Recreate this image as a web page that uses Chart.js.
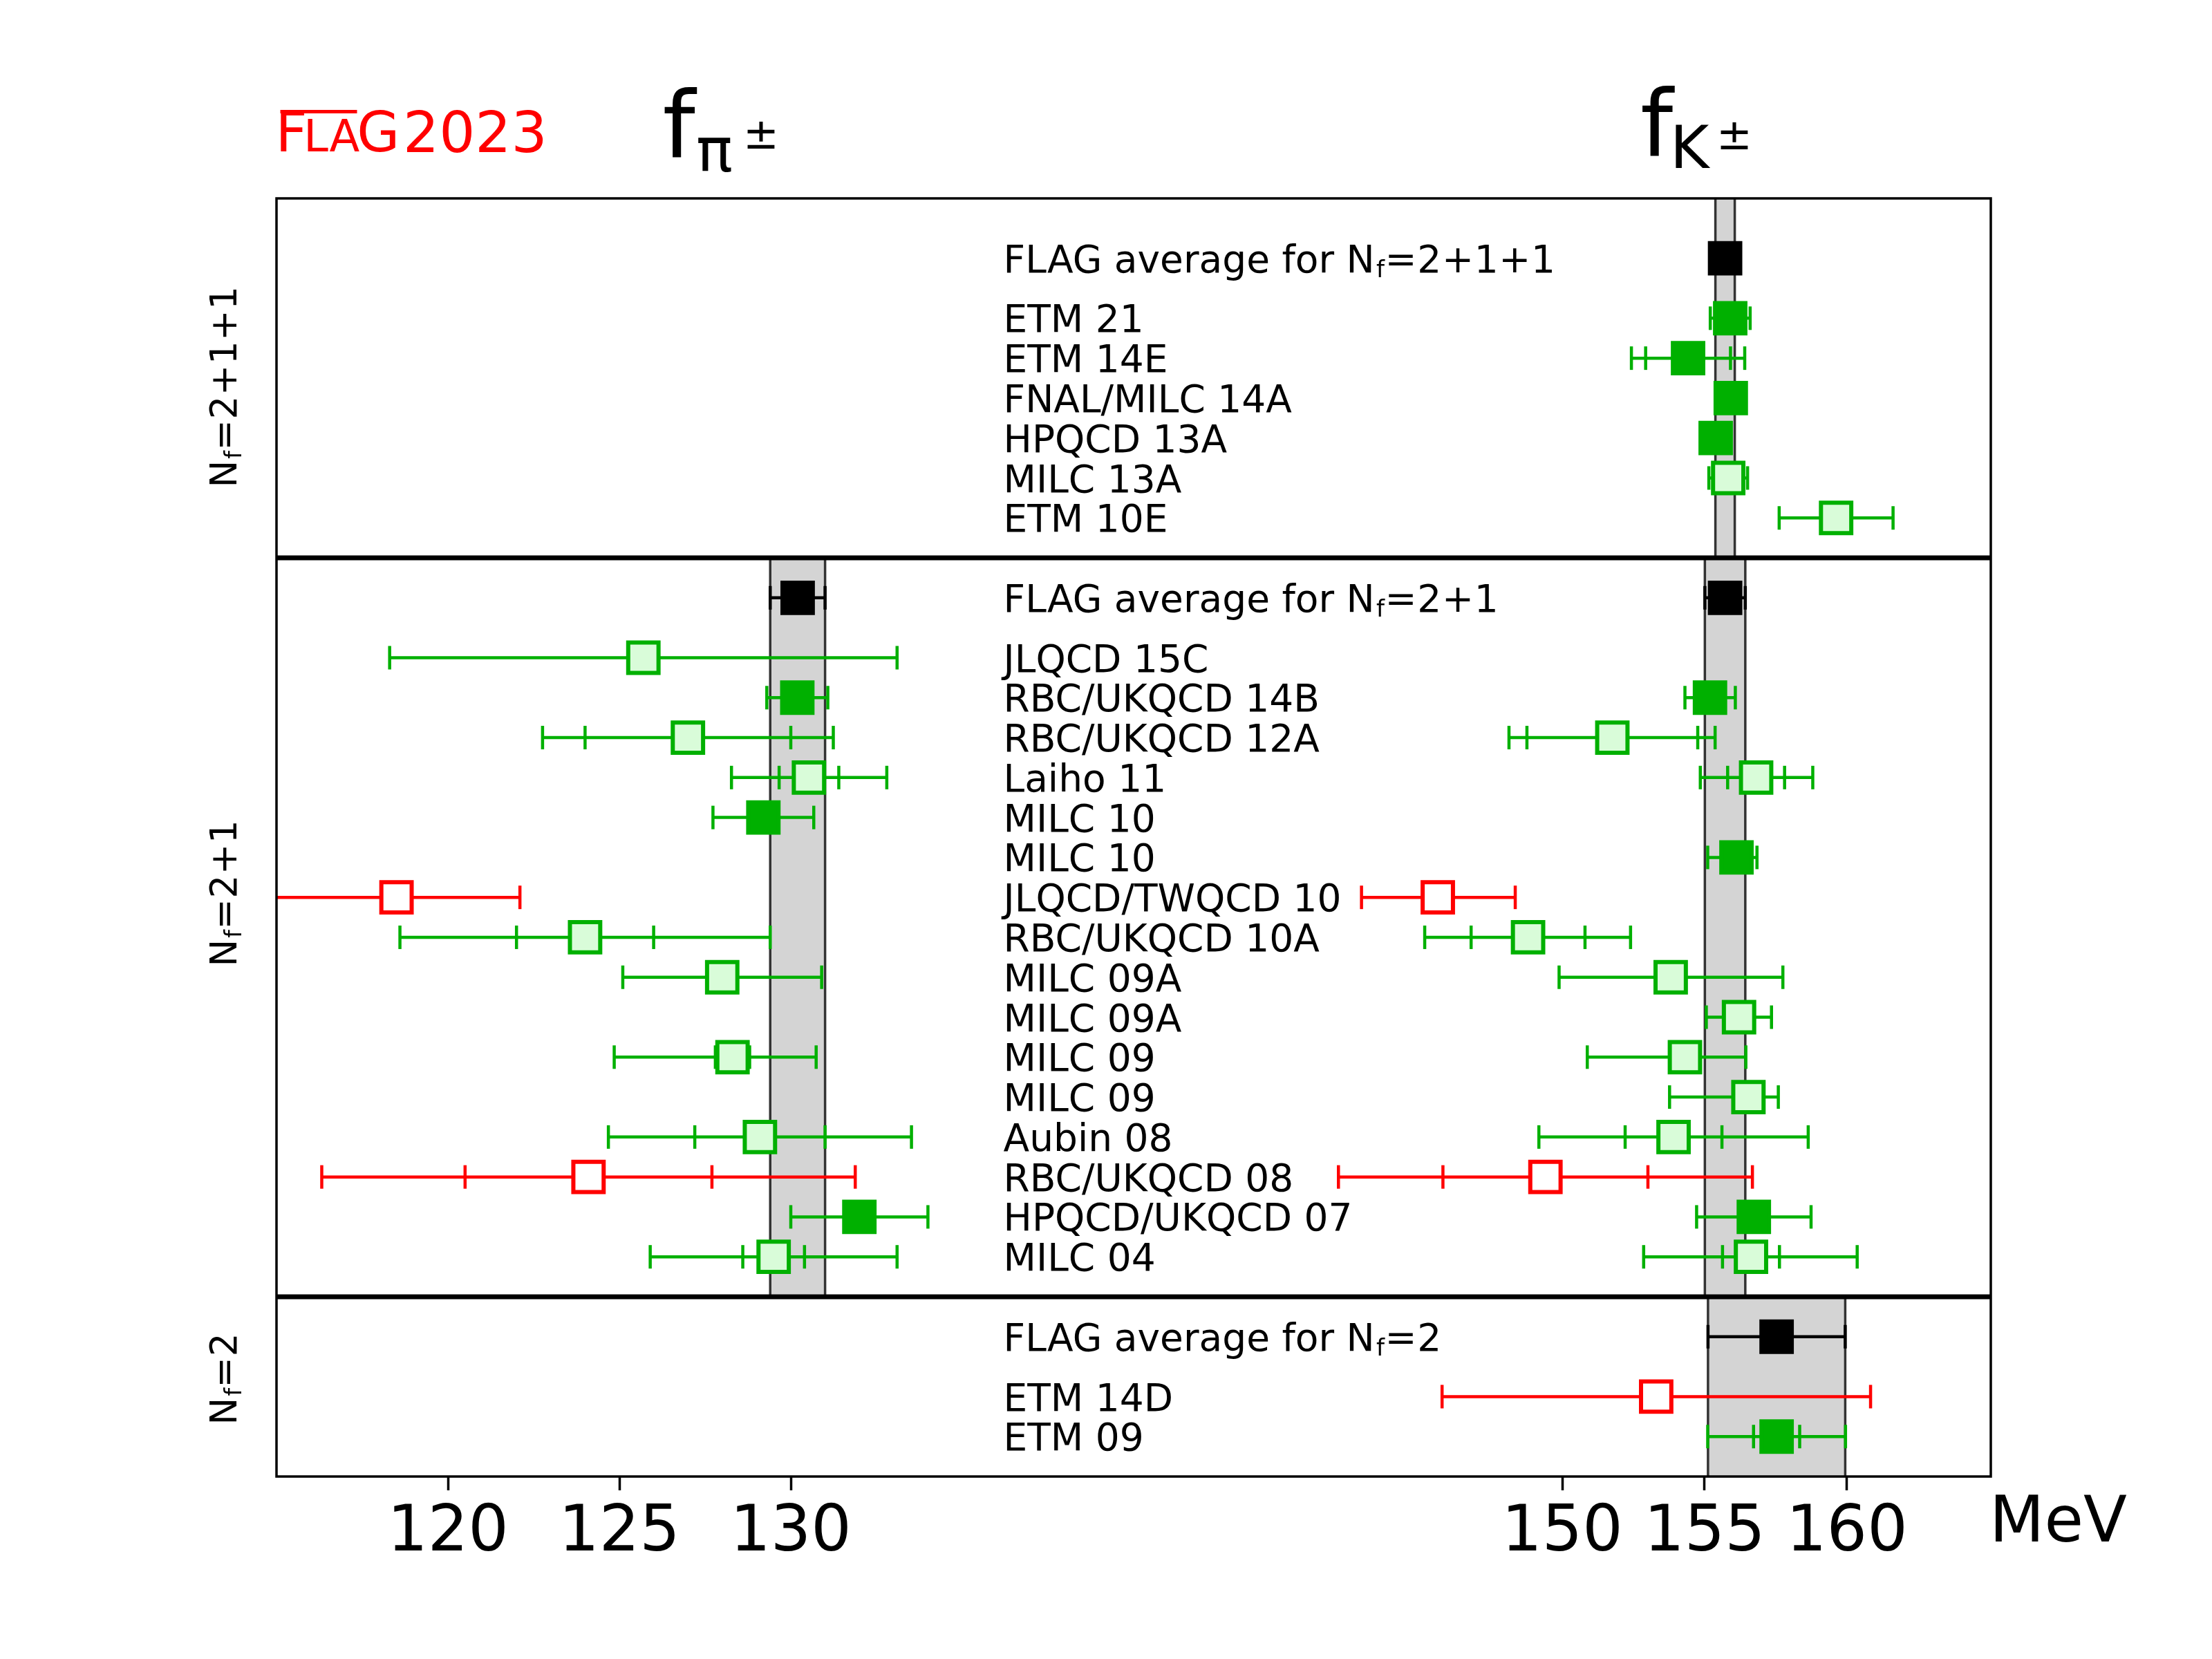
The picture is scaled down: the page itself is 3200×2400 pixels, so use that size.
<!DOCTYPE html>
<html>
<head>
<meta charset="utf-8">
<script src="https://cdn.jsdelivr.net/npm/chart.js@4.4.1/dist/chart.umd.min.js"></script>
<style>
  html, body { margin: 0; padding: 0; background: #fff; }
  canvas { display: block; }
</style>
</head>
<body>
<canvas id="chart" width="3200" height="2400" style="width:3200px;height:2400px"></canvas>
<script>
// rows, top to bottom (row units, 0 = top of frame)
const rowLabels = [
  "FLAG average for N_f=2+1+1", "ETM 21", "ETM 14E", "FNAL/MILC 14A", "HPQCD 13A", "MILC 13A", "ETM 10E",
  "FLAG average for N_f=2+1", "JLQCD 15C", "RBC/UKQCD 14B", "RBC/UKQCD 12A", "Laiho 11", "MILC 10", "MILC 10",
  "JLQCD/TWQCD 10", "RBC/UKQCD 10A", "MILC 09A", "MILC 09A", "MILC 09", "MILC 09", "Aubin 08", "RBC/UKQCD 08",
  "HPQCD/UKQCD 07", "MILC 04",
  "FLAG average for N_f=2", "ETM 14D", "ETM 09"
];
const rowPos = [1.5, 3, 4, 5, 6, 7, 8,
  10, 11.5, 12.5, 13.5, 14.5, 15.5, 16.5, 17.5, 18.5, 19.5, 20.5, 21.5, 22.5, 23.5, 24.5, 25.5, 26.5,
  28.5, 30, 31];
// avg = FLAG average, good = filled green, fair = light green, poor = red open
const rowKind = ["avg", "good", "good", "good", "good", "fair", "fair",
  "avg", "fair", "good", "fair", "fair", "good", "good", "poor", "fair", "fair", "fair", "fair", "fair", "fair", "poor", "good", "fair",
  "avg", "poor", "good"];

const panelEdges = [0, 9, 27.5, 32];
const panelLabels = ["N_f=2+1+1", "N_f=2+1", "N_f=2"];
const panelLabelPos = [4.72, 17.4, 29.56];

// f_pi in MeV (total error low / high, statistical error)
const fpi     = [null, null, null, null, null, null, null,
  130.2, 125.7, 130.19, 127.0, 130.53, 129.2, null, 118.5, 124.0, 128.0, null, 128.3, null, 129.1, 124.1, 132.0, 129.5,
  null, null, null];
const fpiLo   = [null, null, null, null, null, null, null,
  0.8, 7.4, 0.89, 4.24, 2.26, 1.47, null, 3.6, 5.4, 2.9, null, 3.45, null, 4.42, 7.78, 2.0, 3.6,
  null, null, null];
const fpiHi   = [null, null, null, null, null, null, null,
  0.8, 7.4, 0.89, 4.24, 2.27, 1.47, null, 3.6, 5.4, 2.9, null, 2.44, null, 4.42, 7.78, 2.0, 3.6,
  null, null, null];
const fpiStat = [null, null, null, null, null, null, null,
  null, null, null, 3.0, 0.87, null, null, null, 2.0, null, null, 0.5, null, 1.9, 3.6, null, 0.9,
  null, null, null];

// f_K in MeV
const fK     = [155.72, 155.9, 154.42, 155.92, 155.39, 155.83, 159.62,
  155.72, null, 155.19, 151.76, 156.81, null, 156.12, 145.63, 148.8, 153.81, 156.21, 154.31, 156.54, 153.91, 149.41, 156.73, 156.63,
  157.53, 153.3, 157.53];
const fKLo   = [0.34, 0.7, 1.99, 0.34, 0.34, 0.68, 2.0,
  0.71, null, 0.88, 3.63, 1.96, null, 1.01, 2.68, 3.63, 3.92, 1.15, 3.43, 2.77, 4.73, 7.27, 2.01, 3.77,
  2.41, 7.52, 2.42];
const fKHi   = [0.34, 0.7, 1.99, 0.42, 0.34, 0.68, 2.0,
  0.71, null, 0.89, 3.61, 1.99, null, 0.72, 2.72, 3.6, 3.94, 1.14, 2.14, 1.05, 4.73, 7.27, 2.01, 3.73,
  2.41, 7.53, 2.42];
const fKStat = [null, null, 1.49, null, null, null, null,
  null, null, null, 3.0, 1.0, null, null, null, 2.0, null, null, null, null, 1.7, 3.6, null, 1.0,
  null, null, 0.81];

const piTicks = [120, 125, 130];
const kTicks = [150, 155, 160];

// the x axis runs in f_pi units; the f_K part is shifted and compressed
const kAxis = v => 152.5 + 0.8304 * (v - 150);
const piAxis = v => v;

const FONT = '"DejaVu Sans"';
const LABEL_SIZE = 55;
const kindStyle = {
  avg:  { line: "#000000", fill: "#000000", edge: "#000000" },
  good: { line: "#00b000", fill: "#00b000", edge: "#00b000" },
  fair: { line: "#00b000", fill: "#d9fcd9", edge: "#00b000" },
  poor: { line: "#ff0000", fill: "#ffffff", edge: "#ff0000" }
};

const datasets = [];
const markers = {};
Object.keys(kindStyle).forEach(k => {
  const s = kindStyle[k];
  markers[k] = {
    type: "scatter", data: [], order: 0,
    pointStyle: "rect", pointRadius: 31, pointHoverRadius: 31,
    backgroundColor: s.fill, borderColor: s.edge, borderWidth: 6, hoverBorderWidth: 6
  };
});

function addResult(v, lo, hi, stat, y, kind, map) {
  if (v == null) return;
  const c = kindStyle[kind].line;
  const cap = { pointStyle: "line", pointRotation: 90, pointRadius: 17, pointHoverRadius: 17,
    pointBorderColor: c, pointBackgroundColor: c, pointBorderWidth: 4.5, pointHoverBorderWidth: 4.5 };
  datasets.push(Object.assign({
    type: "line", order: 2, data: [{ x: map(v - lo), y: y }, { x: map(v + hi), y: y }],
    borderColor: c, borderWidth: 4.5, fill: false, tension: 0
  }, cap));
  if (stat != null) {
    datasets.push(Object.assign({
      type: "scatter", order: 1, data: [{ x: map(v - stat), y: y }, { x: map(v + stat), y: y }]
    }, cap));
  }
  markers[kind].data.push({ x: map(v), y: y });
}

rowPos.forEach((y, i) => {
  addResult(fpi[i], fpiLo[i], fpiHi[i], fpiStat[i], y, rowKind[i], piAxis);
  addResult(fK[i], fKLo[i], fKHi[i], fKStat[i], y, rowKind[i], kAxis);
});
Object.keys(markers).forEach(k => datasets.push(markers[k]));

const tickPos = piTicks.map(piAxis).concat(kTicks.map(kAxis));
const tickText = piTicks.concat(kTicks).map(String);

function panelOf(y) {
  for (let p = 0; p < panelEdges.length - 1; p++) {
    if (y >= panelEdges[p] && y < panelEdges[p + 1]) return p;
  }
  return panelEdges.length - 2;
}

// text with an N_f subscript, as matplotlib mathtext draws it
function drawMath(ctx, str, x, y, size, measureOnly) {
  const parts = [];
  const k = str.indexOf("_f");
  if (k < 0) {
    parts.push({ t: str, s: size, dy: 0, g: 0 });
  } else {
    parts.push({ t: str.slice(0, k), s: size, dy: 0, g: 0 });
    parts.push({ t: "f", s: size * 0.62, dy: size * 0.13, g: size * 0.04 });
    for (const ch of str.slice(k + 2)) parts.push({ t: ch, s: size, dy: 0, g: size * 0.012 });
  }
  let cx = x;
  for (const p of parts) {
    cx += p.g;
    ctx.font = p.s + "px " + FONT;
    if (!measureOnly) ctx.fillText(p.t, cx, y + p.dy);
    cx += ctx.measureText(p.t).width;
  }
  return cx - x;
}

function drawInk(ctx, text, inkLeft, baseline, size) {
  ctx.font = size + "px " + FONT;
  const m = ctx.measureText(text);
  ctx.fillText(text, inkLeft + m.actualBoundingBoxLeft, baseline);
}

const decor = {
  id: "decor",
  beforeDatasetsDraw(chart) {
    const { ctx, scales: { x, y } } = chart;
    ctx.save();
    rowKind.forEach((kind, i) => {
      if (kind !== "avg") return;
      const p = panelOf(rowPos[i]);
      const top = y.getPixelForValue(panelEdges[p]);
      const bot = y.getPixelForValue(panelEdges[p + 1]);
      [[fpi, fpiLo, fpiHi, piAxis], [fK, fKLo, fKHi, kAxis]].forEach(([c, lo, hi, map]) => {
        if (c[i] == null) return;
        const x0 = x.getPixelForValue(map(c[i] - lo[i]));
        const x1 = x.getPixelForValue(map(c[i] + hi[i]));
        ctx.fillStyle = "#d4d4d4";
        ctx.fillRect(x0, top, x1 - x0, bot - top);
        ctx.strokeStyle = "#333333";
        ctx.lineWidth = 3.5;
        ctx.beginPath();
        ctx.moveTo(x0, top); ctx.lineTo(x0, bot);
        ctx.moveTo(x1, top); ctx.lineTo(x1, bot);
        ctx.stroke();
      });
    });
    ctx.restore();
  },
  afterDatasetsDraw(chart) {
    const { ctx, chartArea: a, scales: { y } } = chart;
    ctx.save();
    ctx.strokeStyle = "#000";
    ctx.lineWidth = 7;
    panelEdges.slice(1, -1).forEach(e => {
      const py = y.getPixelForValue(e);
      ctx.beginPath(); ctx.moveTo(a.left, py); ctx.lineTo(a.right, py); ctx.stroke();
    });
    ctx.lineWidth = 3.5;
    ctx.strokeRect(a.left, a.top, a.right - a.left, a.bottom - a.top);
    ctx.restore();
  },
  afterDraw(chart) {
    const { ctx, chartArea: a, scales: { x, y } } = chart;
    ctx.save();
    ctx.fillStyle = "#000";
    ctx.textBaseline = "alphabetic";
    // row labels
    const labelX = x.getPixelForValue(136.2);
    rowLabels.forEach((t, i) => {
      drawMath(ctx, t, labelX, y.getPixelForValue(rowPos[i]) + 0.365 * LABEL_SIZE, LABEL_SIZE);
    });
    // panel labels on the left
    panelLabels.forEach((t, i) => {
      ctx.save();
      ctx.translate(a.left - 58, y.getPixelForValue(panelLabelPos[i]));
      ctx.rotate(-Math.PI / 2);
      const w = drawMath(ctx, t, 0, 0, 53, true);
      drawMath(ctx, t, -w / 2, 0, 53);
      ctx.restore();
    });
    // FLAG logo
    ctx.fillStyle = "#ff0000";
    drawInk(ctx, "F", 405.5, 219.3, 80);
    drawInk(ctx, "LA", 445.3, 219.3, 64);
    drawInk(ctx, "G", 520.3, 219.3, 80);
    drawInk(ctx, "2023", 589, 220, 82);
    ctx.fillRect(405.5, 159, 111, 5);
    // column titles
    ctx.fillStyle = "#000";
    drawInk(ctx, "f", 961.6, 227.7, 134);
    drawInk(ctx, "\u03c0", 1010, 248, 88);
    drawInk(ctx, "\u00b1", 1081, 215, 62);
    drawInk(ctx, "f", 2376, 226, 134);
    drawInk(ctx, "K", 2424, 243, 86);
    drawInk(ctx, "\u00b1", 2489, 216, 62);
    // unit
    drawInk(ctx, "MeV", 2887, 2230, 92);
    ctx.restore();
  }
};

new Chart(document.getElementById("chart"), {
  type: "scatter",
  data: { datasets: datasets },
  options: {
    responsive: false,
    animation: false,
    devicePixelRatio: 1,
    events: [],
    layout: { padding: { left: 400, right: 320, top: 287, bottom: 114 } },
    plugins: { legend: { display: false }, tooltip: { enabled: false } },
    scales: {
      x: {
        type: "linear", min: 115, max: 165,
        afterBuildTicks: axis => { axis.ticks = tickPos.map(v => ({ value: v })); },
        afterFit: axis => { axis.height = 150; },
        ticks: {
          callback: (v, i) => tickText[i],
          autoSkip: false, maxRotation: 0, minRotation: 0,
          padding: 8, color: "#000",
          font: { family: "DejaVu Sans", size: 92 }
        },
        grid: { display: true, drawOnChartArea: false, drawTicks: true, tickLength: 20, tickWidth: 3.5, tickColor: "#000" },
        border: { display: false }
      },
      y: { type: "linear", min: 0, max: 32, reverse: true, display: false }
    }
  },
  plugins: [decor]
});
</script>
</body>
</html>
